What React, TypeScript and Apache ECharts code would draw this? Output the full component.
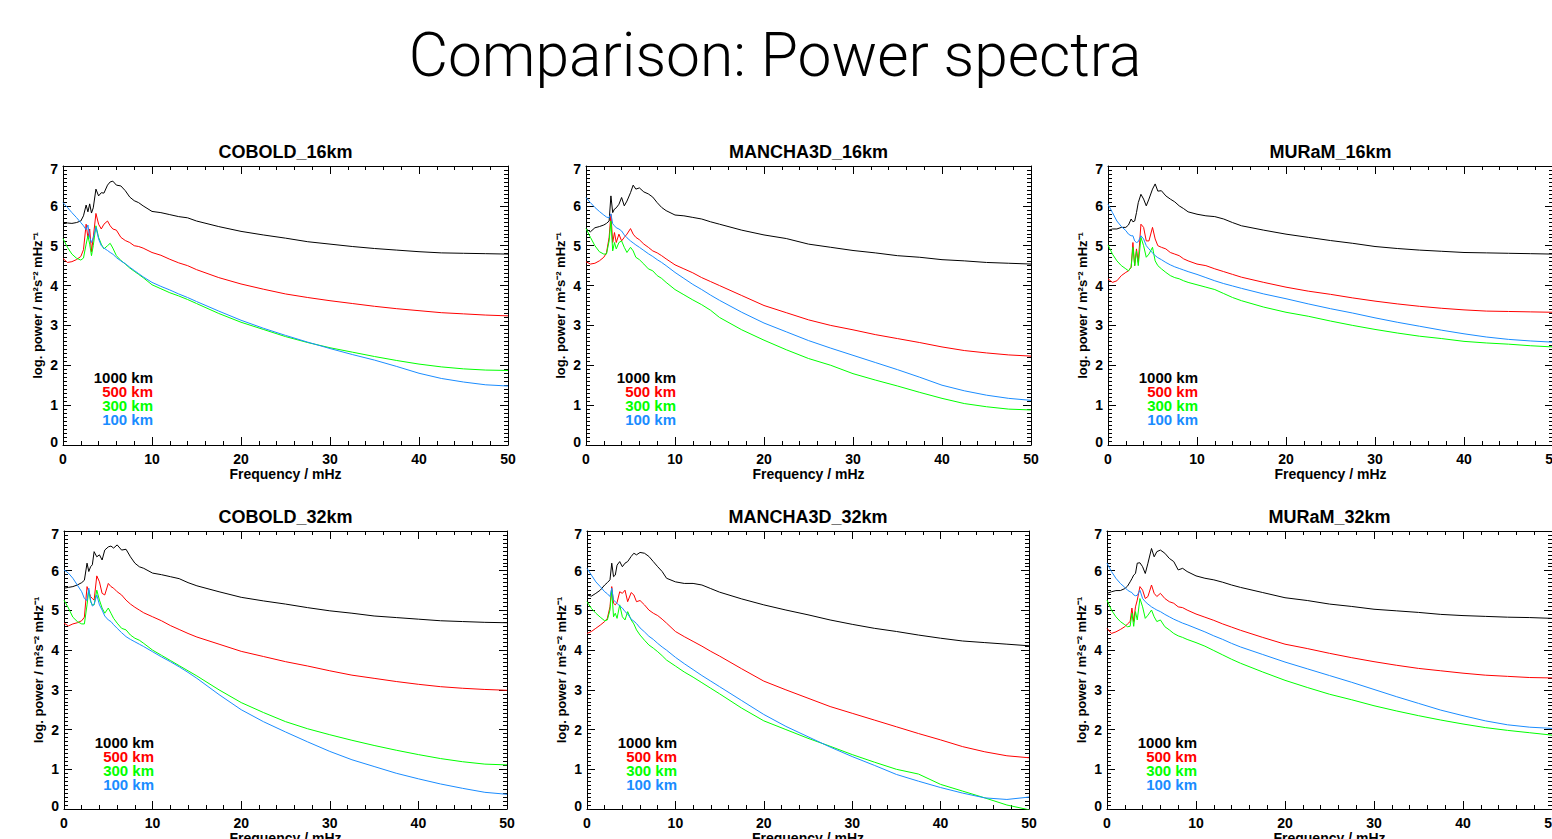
import React, { useEffect, useRef } from "react";
import * as echarts from "echarts";

// Frequency grid (mHz)
const freq = [0, 0.5, 1, 1.5, 2, 2.3, 2.6, 2.8, 3.0, 3.2, 3.4, 3.7, 4.0, 4.3, 4.6, 5.0, 5.3, 5.6, 6.0, 6.5, 7.0, 7.5, 8, 8.5, 9, 10, 11, 12, 13, 14, 15, 17.5, 20, 22.5, 25, 27.5, 30, 32.5, 35, 37.5, 40, 42.5, 45, 47.5, 50];

// COBOLD_16km
const cobold16_1000 = [5.55, 5.57, 5.56, 5.58, 5.62, 5.75, 6.02, 5.85, 6.05, 5.82, 5.95, 6.42, 6.25, 6.33, 6.32, 6.52, 6.6, 6.62, 6.52, 6.5, 6.38, 6.22, 6.13, 6.08, 6.0, 5.86, 5.83, 5.78, 5.73, 5.7, 5.62, 5.48, 5.36, 5.27, 5.19, 5.1, 5.04, 4.98, 4.93, 4.89, 4.85, 4.82, 4.81, 4.8, 4.79];
const cobold16_500 = [4.68, 4.58, 4.6, 4.65, 4.73, 4.9, 5.54, 5.2, 5.42, 4.85, 5.2, 5.81, 5.54, 5.42, 5.54, 5.62, 5.5, 5.42, 5.39, 5.21, 5.13, 5.08, 5.0, 4.98, 4.94, 4.83, 4.76, 4.66, 4.57, 4.5, 4.4, 4.2, 4.04, 3.91, 3.79, 3.7, 3.62, 3.55, 3.48, 3.42, 3.37, 3.32, 3.29, 3.26, 3.24];
const cobold16_300 = [5.18, 4.96, 4.79, 4.69, 4.64, 4.69, 5.04, 5.25, 5.04, 4.75, 5.0, 5.5, 5.21, 5.04, 4.92, 5.0, 5.06, 4.94, 4.75, 4.63, 4.54, 4.44, 4.36, 4.28, 4.2, 4.02, 3.92, 3.82, 3.74, 3.65, 3.55, 3.3, 3.08, 2.9, 2.72, 2.57, 2.44, 2.33, 2.22, 2.12, 2.03, 1.96, 1.91, 1.88, 1.87];
const cobold16_100 = [6.08, 5.96, 5.83, 5.71, 5.58, 5.5, 5.4, 5.52, 5.21, 5.08, 5.2, 5.46, 5.17, 5.0, 4.94, 4.88, 4.83, 4.79, 4.7, 4.62, 4.55, 4.46, 4.38, 4.3, 4.22, 4.08, 3.98, 3.89, 3.79, 3.7, 3.6, 3.36, 3.13, 2.93, 2.75, 2.58, 2.42, 2.27, 2.13, 1.97, 1.8, 1.67, 1.58, 1.51, 1.48];

// MANCHA3D_16km
const mancha16_1000 = [5.42, 5.35, 5.45, 5.48, 5.52, 5.56, 5.62, 6.25, 5.83, 5.92, 5.95, 6.04, 6.21, 6.0, 6.12, 6.33, 6.52, 6.42, 6.45, 6.35, 6.3, 6.22, 6.08, 5.96, 5.88, 5.77, 5.75, 5.71, 5.67, 5.6, 5.54, 5.39, 5.27, 5.18, 5.04, 4.96, 4.88, 4.82, 4.75, 4.71, 4.65, 4.62, 4.58, 4.56, 4.54];
const mancha16_500 = [4.6, 4.54, 4.56, 4.62, 4.71, 4.82, 5.21, 5.79, 5.08, 5.33, 5.08, 5.29, 5.12, 5.21, 5.29, 5.43, 5.29, 5.21, 5.15, 5.04, 4.96, 4.87, 4.82, 4.75, 4.67, 4.52, 4.42, 4.32, 4.2, 4.1, 4.0, 3.75, 3.5, 3.32, 3.14, 3.0, 2.89, 2.77, 2.67, 2.57, 2.46, 2.37, 2.31, 2.26, 2.23];
const mancha16_300 = [5.43, 5.21, 5.0, 4.85, 4.79, 4.79, 5.12, 5.62, 4.87, 5.08, 4.92, 5.08, 5.12, 4.96, 4.83, 4.96, 4.87, 4.71, 4.65, 4.54, 4.42, 4.37, 4.25, 4.18, 4.08, 3.9, 3.77, 3.64, 3.52, 3.38, 3.2, 2.89, 2.63, 2.39, 2.17, 2.0, 1.79, 1.63, 1.48, 1.32, 1.17, 1.04, 0.96, 0.9, 0.88];
const mancha16_100 = [6.21, 6.08, 5.96, 5.86, 5.77, 5.72, 5.7, 5.8, 5.55, 5.5, 5.45, 5.42, 5.37, 5.27, 5.2, 5.12, 5.07, 5.02, 4.96, 4.88, 4.8, 4.73, 4.65, 4.58, 4.5, 4.33, 4.18, 4.03, 3.9, 3.76, 3.63, 3.33, 3.06, 2.84, 2.62, 2.43, 2.25, 2.07, 1.89, 1.7, 1.5, 1.36, 1.25, 1.17, 1.12];

// MURaM_16km
const muram16_1000 = [5.38, 5.42, 5.42, 5.46, 5.46, 5.52, 5.67, 5.6, 5.62, 5.83, 6.08, 6.29, 6.17, 6.0, 6.17, 6.42, 6.55, 6.37, 6.38, 6.25, 6.17, 6.1, 6.0, 5.93, 5.85, 5.79, 5.75, 5.73, 5.67, 5.58, 5.5, 5.39, 5.29, 5.21, 5.13, 5.06, 4.98, 4.93, 4.89, 4.86, 4.83, 4.82, 4.81, 4.8, 4.79];
const muram16_500 = [4.17, 4.08, 4.12, 4.25, 4.33, 4.37, 4.46, 5.08, 4.5, 4.92, 4.58, 5.54, 5.46, 5.12, 5.12, 5.46, 5.17, 5.0, 4.96, 4.92, 4.83, 4.79, 4.75, 4.67, 4.62, 4.54, 4.5, 4.42, 4.35, 4.28, 4.21, 4.08, 3.96, 3.86, 3.78, 3.69, 3.61, 3.54, 3.48, 3.43, 3.39, 3.36, 3.35, 3.34, 3.33];
const muram16_300 = [5.02, 4.79, 4.62, 4.5, 4.42, 4.37, 4.46, 4.96, 4.5, 4.87, 4.5, 5.21, 5.0, 4.71, 4.79, 4.96, 4.62, 4.5, 4.42, 4.33, 4.25, 4.2, 4.17, 4.12, 4.08, 4.02, 3.96, 3.9, 3.8, 3.7, 3.62, 3.46, 3.33, 3.23, 3.11, 3.0, 2.9, 2.81, 2.73, 2.67, 2.6, 2.56, 2.53, 2.49, 2.46];
const muram16_100 = [6.04, 5.83, 5.62, 5.48, 5.38, 5.29, 5.25, 5.25, 5.12, 5.08, 5.1, 5.25, 5.17, 5.0, 4.92, 4.82, 4.75, 4.7, 4.65, 4.58, 4.52, 4.47, 4.43, 4.39, 4.35, 4.28, 4.2, 4.12, 4.05, 3.99, 3.93, 3.79, 3.67, 3.54, 3.42, 3.31, 3.19, 3.08, 2.98, 2.88, 2.79, 2.71, 2.65, 2.61, 2.58];

// COBOLD_32km
const cobold32_1000 = [5.56, 5.58, 5.6, 5.64, 5.7, 5.76, 6.19, 5.98, 6.1, 6.15, 6.48, 6.35, 6.4, 6.27, 6.52, 6.6, 6.62, 6.57, 6.65, 6.52, 6.54, 6.35, 6.19, 6.1, 6.06, 5.94, 5.9, 5.85, 5.8, 5.7, 5.62, 5.47, 5.33, 5.24, 5.16, 5.07, 4.99, 4.93, 4.86, 4.82, 4.78, 4.74, 4.72, 4.7, 4.69];
const cobold32_500 = [4.68, 4.61, 4.66, 4.69, 4.74, 4.83, 5.6, 5.47, 5.35, 5.3, 5.26, 5.87, 5.72, 5.43, 5.39, 5.68, 5.6, 5.56, 5.47, 5.39, 5.26, 5.16, 5.08, 5.01, 4.94, 4.84, 4.74, 4.62, 4.52, 4.42, 4.33, 4.15, 3.97, 3.84, 3.71, 3.6, 3.48, 3.37, 3.29, 3.21, 3.14, 3.08, 3.04, 3.01, 2.99];
const cobold32_300 = [5.26, 5.06, 4.83, 4.72, 4.66, 4.66, 5.14, 5.51, 5.22, 5.14, 5.14, 5.51, 5.26, 5.06, 4.93, 5.06, 4.93, 4.8, 4.68, 4.55, 4.51, 4.38, 4.3, 4.25, 4.17, 4.0, 3.87, 3.74, 3.61, 3.48, 3.35, 3.0, 2.68, 2.43, 2.2, 2.02, 1.87, 1.73, 1.6, 1.48, 1.37, 1.27, 1.19, 1.13, 1.11];
const cobold32_100 = [6.02, 5.94, 5.81, 5.64, 5.47, 5.3, 5.25, 5.56, 5.26, 5.11, 5.15, 5.39, 5.14, 5.01, 4.86, 4.76, 4.72, 4.64, 4.55, 4.44, 4.34, 4.27, 4.21, 4.15, 4.09, 3.96, 3.83, 3.71, 3.58, 3.44, 3.29, 2.88, 2.5, 2.2, 1.94, 1.69, 1.45, 1.24, 1.07, 0.9, 0.76, 0.63, 0.52, 0.42, 0.37];

// MANCHA3D_32km
const mancha32_1000 = [5.39, 5.36, 5.43, 5.51, 5.64, 5.7, 5.77, 6.19, 5.85, 5.89, 6.14, 6.23, 6.1, 6.19, 6.23, 6.36, 6.44, 6.4, 6.46, 6.44, 6.36, 6.23, 6.1, 5.98, 5.81, 5.72, 5.68, 5.68, 5.64, 5.55, 5.46, 5.29, 5.14, 5.01, 4.89, 4.76, 4.65, 4.55, 4.47, 4.38, 4.3, 4.23, 4.19, 4.15, 4.11];
const mancha32_500 = [4.42, 4.47, 4.55, 4.63, 4.72, 4.8, 5.09, 5.6, 5.18, 5.14, 5.2, 5.47, 5.43, 5.51, 5.22, 5.45, 5.39, 5.22, 5.25, 5.14, 5.01, 4.93, 4.87, 4.78, 4.68, 4.47, 4.34, 4.22, 4.1, 3.97, 3.85, 3.53, 3.22, 3.0, 2.79, 2.58, 2.41, 2.24, 2.07, 1.9, 1.74, 1.57, 1.44, 1.34, 1.29];
const mancha32_300 = [5.22, 5.05, 4.93, 4.83, 4.74, 4.76, 5.01, 5.51, 4.84, 4.93, 4.8, 5.14, 4.84, 4.76, 4.97, 4.76, 4.66, 4.51, 4.38, 4.25, 4.13, 4.05, 3.96, 3.86, 3.75, 3.6, 3.45, 3.32, 3.18, 3.04, 2.9, 2.54, 2.22, 2.0, 1.78, 1.58, 1.37, 1.18, 1.0, 0.88, 0.62, 0.45, 0.28, 0.1, -0.02];
const mancha32_100 = [6.06, 5.89, 5.72, 5.6, 5.47, 5.42, 5.35, 5.56, 5.26, 5.22, 5.18, 5.11, 5.06, 4.97, 4.91, 4.78, 4.73, 4.67, 4.56, 4.46, 4.35, 4.27, 4.17, 4.08, 4.0, 3.82, 3.66, 3.51, 3.36, 3.22, 3.08, 2.73, 2.38, 2.08, 1.82, 1.56, 1.32, 1.1, 0.87, 0.7, 0.54, 0.4, 0.28, 0.24, 0.3];

// MURaM_32km
const muram32_1000 = [5.43, 5.47, 5.5, 5.5, 5.55, 5.61, 5.72, 5.8, 5.89, 5.93, 6.19, 6.2, 6.1, 5.93, 6.19, 6.56, 6.35, 6.48, 6.52, 6.44, 6.31, 6.23, 6.02, 6.06, 5.98, 5.87, 5.81, 5.77, 5.71, 5.64, 5.58, 5.45, 5.32, 5.25, 5.16, 5.1, 5.03, 4.99, 4.95, 4.9, 4.87, 4.85, 4.83, 4.82, 4.8];
const muram32_500 = [4.55, 4.42, 4.46, 4.52, 4.59, 4.66, 4.72, 5.06, 4.72, 5.09, 5.26, 5.6, 5.51, 5.3, 5.35, 5.64, 5.43, 5.35, 5.43, 5.3, 5.22, 5.18, 5.09, 5.07, 5.01, 4.91, 4.83, 4.75, 4.66, 4.58, 4.5, 4.32, 4.15, 4.04, 3.92, 3.81, 3.71, 3.62, 3.54, 3.48, 3.42, 3.37, 3.34, 3.31, 3.3];
const muram32_300 = [5.26, 5.01, 4.84, 4.72, 4.64, 4.59, 4.6, 4.93, 4.6, 4.97, 4.76, 5.3, 5.09, 4.8, 4.88, 5.01, 4.84, 4.72, 4.76, 4.59, 4.51, 4.42, 4.36, 4.32, 4.27, 4.19, 4.1, 3.99, 3.88, 3.77, 3.67, 3.45, 3.24, 3.06, 2.89, 2.75, 2.6, 2.47, 2.35, 2.24, 2.14, 2.05, 1.98, 1.92, 1.86];
const muram32_100 = [6.19, 5.98, 5.81, 5.68, 5.58, 5.51, 5.47, 5.45, 5.39, 5.37, 5.38, 5.51, 5.3, 5.22, 5.16, 5.09, 5.05, 5.01, 4.97, 4.9, 4.84, 4.78, 4.73, 4.68, 4.64, 4.55, 4.46, 4.36, 4.27, 4.17, 4.08, 3.89, 3.7, 3.53, 3.36, 3.19, 3.01, 2.83, 2.66, 2.49, 2.35, 2.22, 2.12, 2.06, 2.03];

const depthLabels = ["1000 km", "500 km", "300 km", "100 km"];
const lineColors = ["#000000", "#ff0000", "#00ff00", "#1a8cff"];
const xTicks = { min: 0, max: 50, interval: 10 };
const yTicks = { min: 0, max: 7, interval: 1 };

const panels = [
  { title: "COBOLD_16km", data: [cobold16_1000, cobold16_500, cobold16_300, cobold16_100] },
  { title: "MANCHA3D_16km", data: [mancha16_1000, mancha16_500, mancha16_300, mancha16_100] },
  { title: "MURaM_16km", data: [muram16_1000, muram16_500, muram16_300, muram16_100] },
  { title: "COBOLD_32km", data: [cobold32_1000, cobold32_500, cobold32_300, cobold32_100] },
  { title: "MANCHA3D_32km", data: [mancha32_1000, mancha32_500, mancha32_300, mancha32_100] },
  { title: "MURaM_32km", data: [muram32_1000, muram32_500, muram32_300, muram32_100] },
];

// layout boxes [left, top, width, height]
const boxes = [
  [63, 166, 445, 279],
  [586, 166, 445, 279],
  [1108, 166, 445, 279],
  [64, 531, 443, 278],
  [587, 531, 442, 278],
  [1107, 531, 445, 278],
];

const FONT = "'Liberation Sans', Arial, Helvetica, sans-serif";

function buildOption() {
  const lineStyle = { color: "#000", width: 1 };
  const labelStyle = { fontFamily: FONT, fontSize: 14, fontWeight: "bold" as const, color: "#000" };
  const grid: any[] = [];
  const xAxis: any[] = [];
  const yAxis: any[] = [];
  const series: any[] = [];
  const graphic: any[] = [];

  graphic.push({
    type: "text",
    x: 775,
    y: 55,
    style: {
      text: "Comparison: Power spectra",
      fill: "#000",
      font: "300 60.5px Roboto, 'Liberation Sans', sans-serif",
      textAlign: "center",
      textVerticalAlign: "middle",
    },
  });

  panels.forEach((p, i) => {
    const [l, t, w, h] = boxes[i];
    grid.push({ left: l, top: t, width: w, height: h, containLabel: false, outerBoundsMode: "none" });
    const common = {
      gridIndex: i,
      type: "value",
      axisLine: { show: true, onZero: false, lineStyle },
      splitLine: { show: false },
    };
    xAxis.push({
      ...common,
      ...xTicks,
      position: "bottom",
      axisTick: { show: true, inside: true, length: 8, lineStyle },
      minorTick: { show: true, splitNumber: 5, length: 4, lineStyle },
      axisLabel: { ...labelStyle, margin: 7, showMinLabel: true, showMaxLabel: true, hideOverlap: false },
      name: "Frequency / mHz",
      nameLocation: "middle",
      nameGap: 22,
      nameTextStyle: { ...labelStyle },
    });
    xAxis.push({
      ...common,
      ...xTicks,
      position: "top",
      axisTick: { show: true, inside: true, length: 8, lineStyle },
      minorTick: { show: true, splitNumber: 5, length: 4, lineStyle },
      axisLabel: { show: false },
    });
    yAxis.push({
      ...common,
      ...yTicks,
      position: "left",
      axisTick: { show: true, inside: true, length: 8, lineStyle },
      minorTick: { show: true, splitNumber: 10, length: 4, lineStyle },
      axisLabel: {
        ...labelStyle,
        margin: 5,
        formatter: (v: number) => (v === 0 ? "{lo|0}" : v === 7 ? "{hi|7}" : String(v)),
        rich: {
          lo: { ...labelStyle, padding: [0, 0, 7, 0] },
          hi: { ...labelStyle, padding: [5, 0, 0, 0] },
        },
      },
      name: "log. power / m²s⁻² mHz⁻¹",
      nameLocation: "middle",
      nameGap: 19,
      nameTextStyle: { ...labelStyle, fontSize: 13 },
    });
    yAxis.push({
      ...common,
      ...yTicks,
      position: "right",
      axisTick: { show: true, inside: true, length: 8, lineStyle },
      minorTick: { show: true, splitNumber: 10, length: 4, lineStyle },
      axisLabel: { show: false },
    });

    p.data.forEach((arr, k) => {
      series.push({
        type: "line",
        name: `${p.title} ${depthLabels[k]}`,
        xAxisIndex: i * 2,
        yAxisIndex: i * 2,
        data: freq.map((f, j) => [f, arr[j]]),
        showSymbol: false,
        symbol: "none",
        clip: true,
        silent: true,
        lineStyle: { color: lineColors[k], width: 1 },
        itemStyle: { color: lineColors[k] },
      });
    });

    graphic.push({
      type: "text",
      x: l + w / 2,
      y: t - 14,
      style: {
        text: p.title,
        fill: "#000",
        font: `bold 18px ${FONT}`,
        textAlign: "center",
        textVerticalAlign: "middle",
      },
    });
    depthLabels.forEach((lab, k) => {
      graphic.push({
        type: "text",
        x: l + 90,
        y: t + 211 + k * 14,
        style: {
          text: lab,
          fill: lineColors[k],
          font: `bold 15px ${FONT}`,
          textAlign: "right",
          textVerticalAlign: "middle",
        },
      });
    });
  });

  return { animation: false, backgroundColor: "#fff", grid, xAxis, yAxis, series, graphic };
}

export default function App() {
  const ref = useRef<HTMLDivElement>(null);
  useEffect(() => {
    document.body.style.margin = "0";
    document.body.style.overflow = "hidden";
    document.documentElement.style.overflow = "hidden";
    if (!ref.current) return;
    const chart = echarts.init(ref.current, undefined, { renderer: "svg" });
    chart.setOption(buildOption() as any);
    return () => chart.dispose();
  }, []);
  return <div ref={ref} style={{ width: 1600, height: 880 }} />;
}
